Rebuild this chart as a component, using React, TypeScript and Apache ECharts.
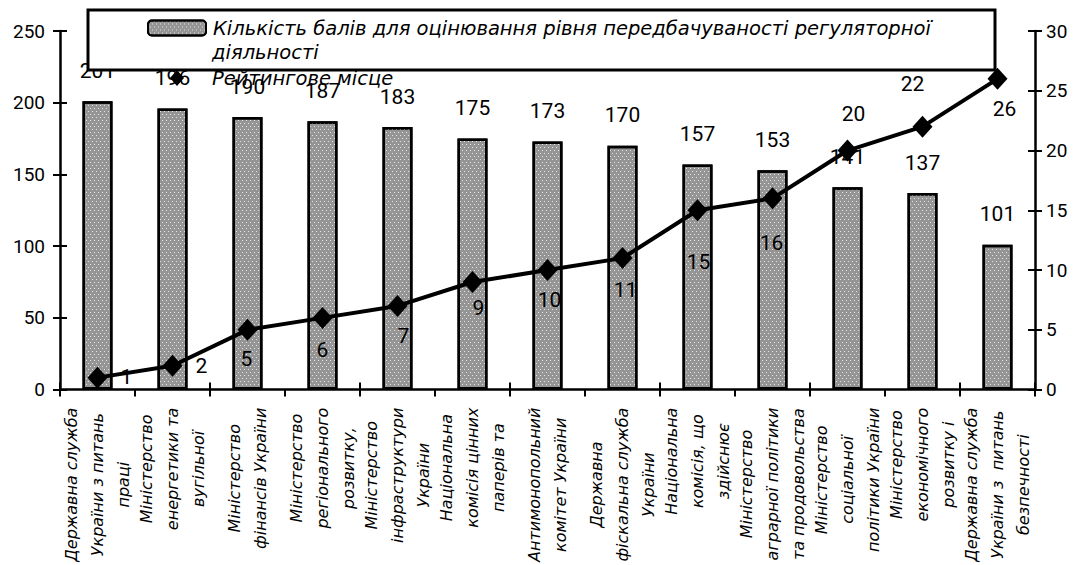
import React, { useEffect, useRef } from "react";
import * as echarts from "echarts";

const categories = [
  "Державна служба\nУкраїни з питань\nпраці",
  "Міністерство\nенергетики та\nвугільної",
  "Міністерство\nфінансів України",
  "Міністерство\nрегіонального\nрозвитку,",
  "Міністерство\nінфраструктури\nУкраїни",
  "Національна\nкомісія цінних\nпаперів та",
  "Антимонопольний\nкомітет України",
  "Державна\nфіскальна служба\nУкраїни",
  "Національна\nкомісія, що\nздійснює",
  "Міністерство\nаграрної політики\nта продовольства",
  "Міністерство\nсоціальної\nполітики України",
  "Міністерство\nекономічного\nрозвитку і",
  "Державна служба\nУкраїни з  питань\nбезпечності",
];

const barName = "Кількість балів для оцінювання рівня передбачуваності регуляторної діяльності";
const barLegendLine1 = "Кількість балів для оцінювання рівня передбачуваності регуляторної";
const barLegendLine2 = "діяльності";
const lineName = "Рейтингове місце";

const scores = [201, 196, 190, 187, 183, 175, 173, 170, 157, 153, 141, 137, 101];
const ranks = [1, 2, 5, 6, 7, 9, 10, 11, 15, 16, 20, 22, 26];

const leftAxis = { min: 0, max: 250, interval: 50 };
const rightAxis = { min: 0, max: 30, interval: 5 };

// label placement (style only), pixel offsets from each rank point
const rankLabelOffsets = [
  [29, -1], [29, 0], [-1, 29], [0, 32], [6, 30], [6, 26], [2, 30],
  [3, 32], [1, 52], [-1, 45], [6, -37], [-10, -43], [7, 30],
];

const NUM_FONT = "Roboto";
const LEG_FONT = "DejaVu Sans";
const LEG_SIZE = 19.5;
const CAT_FONT = "DejaVu Sans";

export default function App() {
  const ref = useRef<HTMLDivElement>(null);
  useEffect(() => {
    if (!ref.current) return;
    const chart = echarts.init(ref.current, undefined, { renderer: "svg" });
    const tickInside = { show: true, inside: true, length: 7, lineStyle: { color: "#000", width: 2 } };
    const tickOutside = { show: true, inside: false, length: 7, lineStyle: { color: "#000", width: 2 } };
    const axisLineStyle = { show: true, lineStyle: { color: "#000", width: 2.5 } };
    const option: any = {
      animation: false,
      backgroundColor: "#fff",
      textStyle: { fontFamily: NUM_FONT, color: "#000" },
      grid: { left: 60, right: 45, top: 31, bottom: 175, containLabel: false },
      legend: [
        {
          data: [barName],
          left: 142,
          top: 13,
          itemWidth: 58,
          itemHeight: 15,
          z: 10,
          formatter: () => barLegendLine1,
          textStyle: { fontFamily: LEG_FONT, fontStyle: "italic", fontSize: LEG_SIZE, color: "#000", padding: [0, 0, 0, 2] },
        },
        {
          data: [{ name: lineName, icon: "diamond" }],
          left: 165,
          top: 63,
          itemWidth: 14,
          itemHeight: 16,
          z: 10,
          textStyle: { fontFamily: LEG_FONT, fontStyle: "italic", fontSize: LEG_SIZE, color: "#000", padding: [0, 0, 0, 23] },
        },
      ],
      graphic: [
        {
          type: "rect",
          z: 5,
          shape: { x: 88, y: 10, width: 907, height: 60 },
          style: { fill: "#fff", stroke: "#000", lineWidth: 3 },
        },
        {
          type: "text",
          z: 10,
          x: 212,
          y: 52,
          style: {
            text: barLegendLine2,
            fontFamily: LEG_FONT,
            fontStyle: "italic",
            fontSize: LEG_SIZE,
            fill: "#000",
            verticalAlign: "middle",
          },
        },
      ],
      xAxis: [
        {
          type: "category",
          data: categories,
          boundaryGap: true,
          axisLine: axisLineStyle,
          axisTick: tickOutside,
          axisLabel: {
            interval: 0,
            rotate: 90,
            margin: 18,
            formatter: (v: string) => v.split("\n").map((s) => `{c|${s}}`).join("\n"),
            rich: {
              c: {
                align: "center",
                fontFamily: CAT_FONT,
                fontStyle: "italic",
                fontSize: 16,
                lineHeight: 26,
                color: "#000",
              },
            },
          },
          splitLine: { show: false },
        },
        {
          type: "category",
          data: categories,
          boundaryGap: true,
          position: "bottom",
          axisLine: { show: false },
          axisTick: tickInside,
          axisLabel: { show: false },
          splitLine: { show: false },
        },
      ],
      yAxis: [
        {
          type: "value",
          position: "left",
          ...leftAxis,
          axisLine: axisLineStyle,
          axisTick: tickOutside,
          axisLabel: { fontFamily: NUM_FONT, fontSize: 19, color: "#000", margin: 15 },
          splitLine: { show: false },
        },
        {
          type: "value",
          position: "right",
          ...rightAxis,
          axisLine: axisLineStyle,
          axisTick: tickOutside,
          axisLabel: { fontFamily: NUM_FONT, fontSize: 19, color: "#000", margin: 11 },
          splitLine: { show: false },
        },
        {
          type: "value",
          position: "left",
          ...leftAxis,
          axisLine: { show: false },
          axisTick: tickInside,
          axisLabel: { show: false },
          splitLine: { show: false },
        },
        {
          type: "value",
          position: "right",
          ...rightAxis,
          axisLine: { show: false },
          axisTick: tickInside,
          axisLabel: { show: false },
          splitLine: { show: false },
        },
      ],
      series: [
        {
          name: barName,
          type: "bar",
          xAxisIndex: 0,
          yAxisIndex: 0,
          barWidth: 30,
          z: 2,
          data: scores,
          itemStyle: {
            color: "#959595",
            borderColor: "#000",
            borderWidth: 2.5,
            decal: {
              symbol: "rect",
              symbolSize: 1,
              color: "rgba(235,235,235,0.9)",
              dashArrayX: [[1, 3], [0, 2, 1, 1]],
              dashArrayY: [1, 2],
              rotation: 0,
            },
          },
          label: {
            show: true,
            position: "top",
            distance: 20,
            fontFamily: NUM_FONT,
            fontSize: 21,
            color: "#000",
          },
        },
        {
          name: lineName,
          type: "line",
          xAxisIndex: 0,
          yAxisIndex: 1,
          z: 3,
          symbol: "diamond",
          symbolSize: [20, 22],
          lineStyle: { color: "#000", width: 4 },
          itemStyle: { color: "#000" },
          data: ranks.map((v, i) => ({
            value: v,
            label: { offset: rankLabelOffsets[i] },
          })),
          label: {
            show: true,
            position: "inside",
            fontFamily: NUM_FONT,
            fontSize: 21,
            color: "#000",
          },
        },
      ],
    };
    chart.setOption(option);
    return () => chart.dispose();
  }, []);
  return (
    <div
      ref={ref}
      style={{ position: "fixed", left: 0, top: 0, width: 1080, height: 565, background: "#fff" }}
    />
  );
}
